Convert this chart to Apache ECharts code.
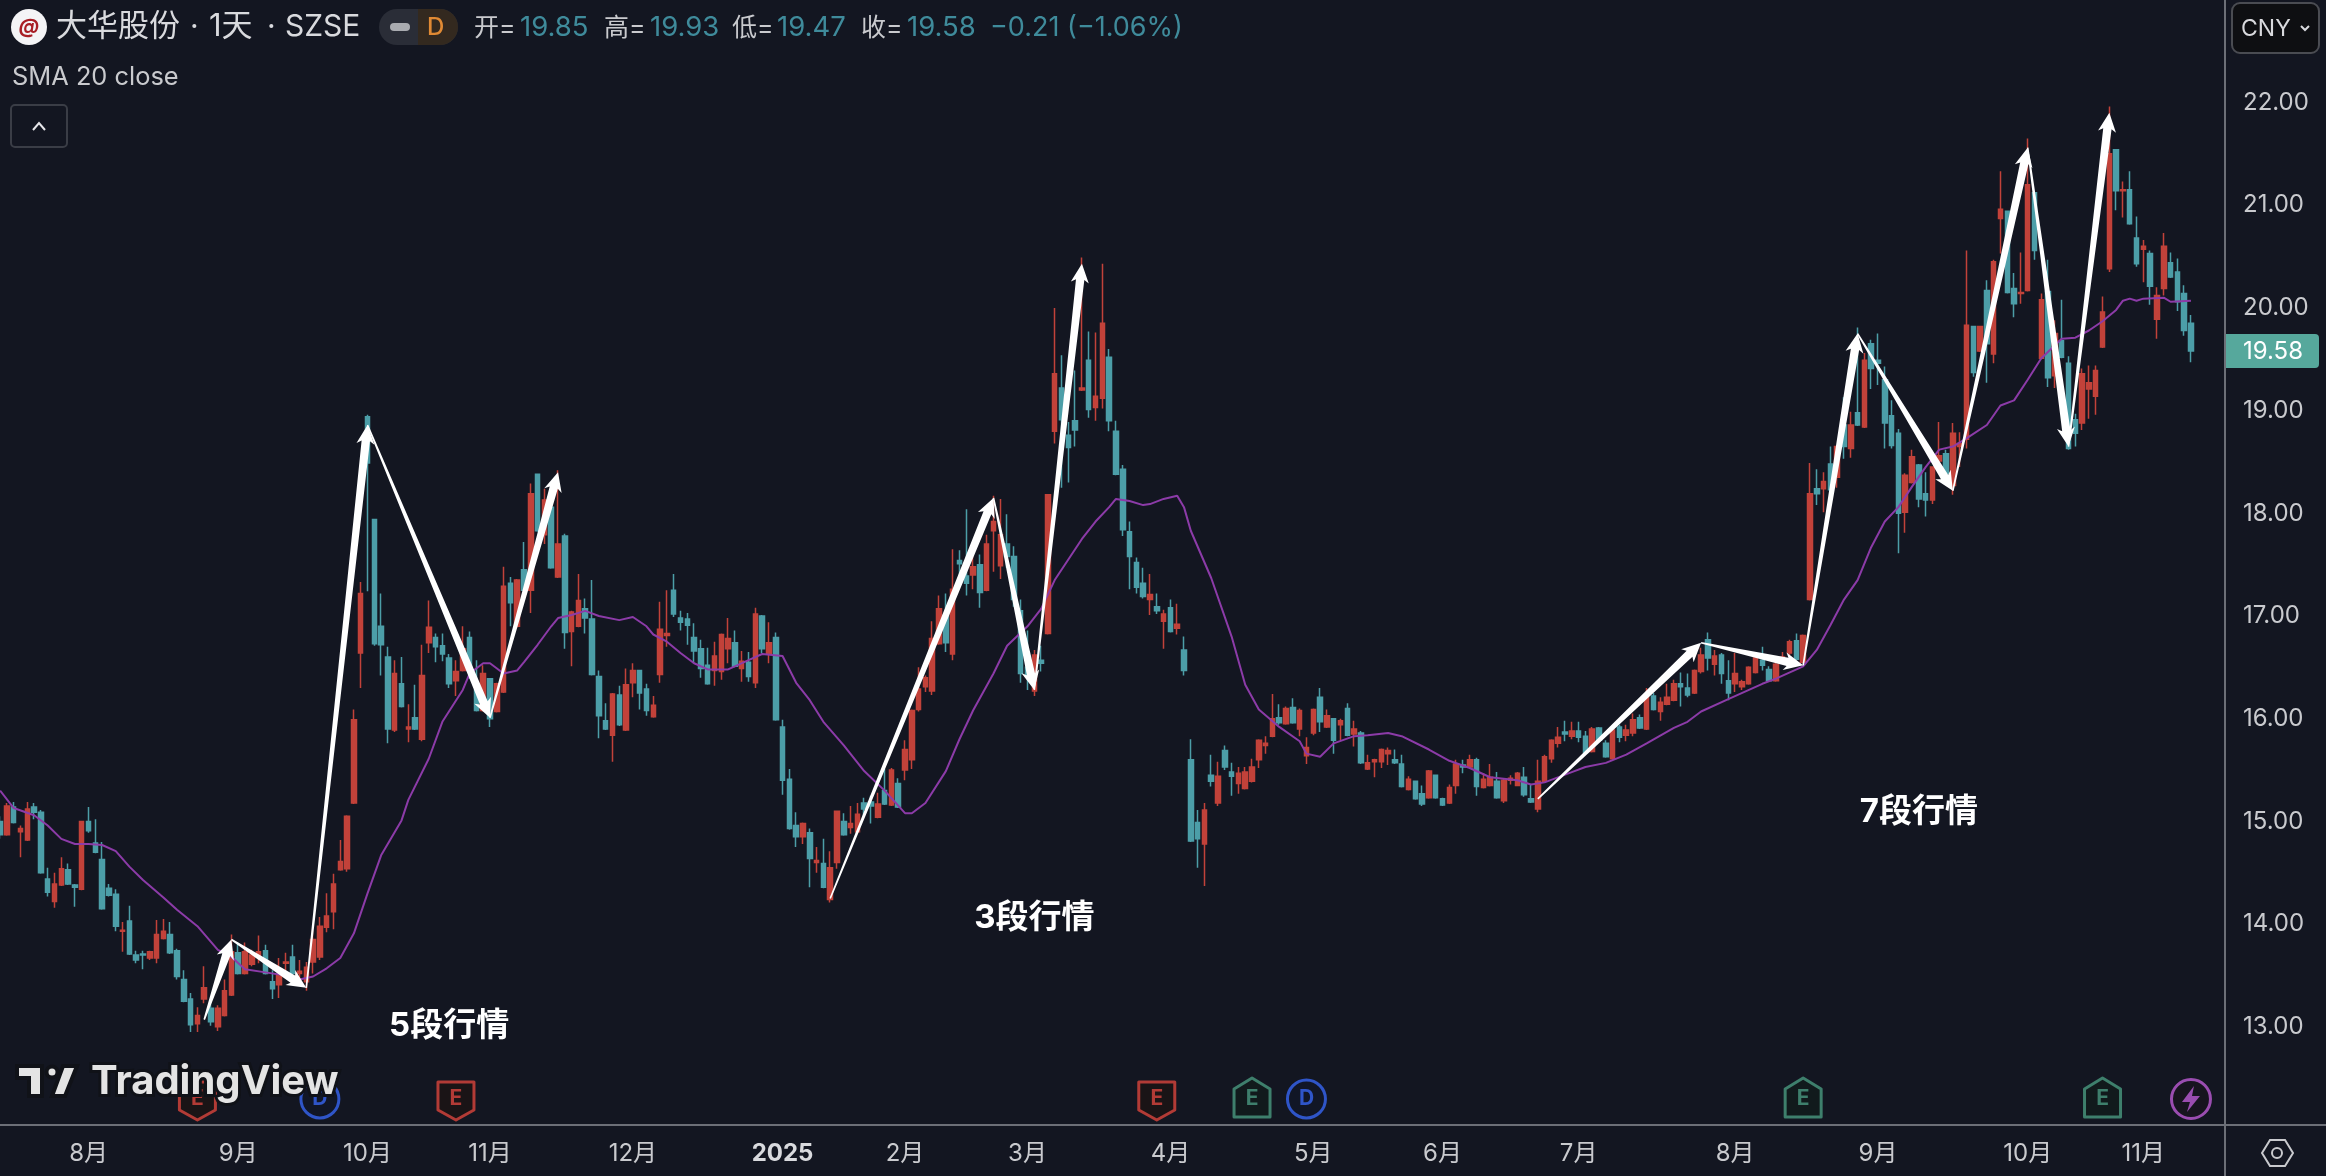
<!DOCTYPE html>
<html>
<head>
<meta charset="utf-8">
<title>大华股份</title>
<script src="https://cdn.jsdelivr.net/npm/echarts@6/dist/echarts.min.js"></script>
<style>
  html, body { margin: 0; padding: 0; background: #131621; }
  #main { width: 2326px; height: 1176px; }
</style>
</head>
<body>
<div id="main"></div>
<script>
// every row is [open, close, low, high]
const candlesAugSep2024 = [
  [15.00,14.87,14.83,15.05],[14.87,15.15,14.86,15.18],[15.14,14.99,14.98,15.19],[14.90,14.93,14.65,14.96],[14.82,15.12,14.81,15.19],
  [15.14,15.09,15.02,15.18],[15.09,14.50,14.49,15.11],[14.44,14.31,14.27,14.55],[14.22,14.39,14.16,14.50],[14.38,14.54,14.37,14.65],
  [14.53,14.39,14.38,14.59],[14.38,14.36,14.17,14.39],[14.34,15.00,14.33,15.00],[15.00,14.91,14.89,15.14],[14.79,14.70,14.69,15.02],
  [14.63,14.15,14.14,14.80],[14.35,14.28,14.27,14.39],[14.29,13.98,13.93,14.34],[13.93,13.94,13.73,14.02],[14.03,13.71,13.70,14.18],
  [13.70,13.65,13.62,13.74],[13.71,13.70,13.56,13.74],[13.67,13.73,13.65,13.74],[13.67,13.90,13.62,14.04],[13.86,13.93,13.85,14.05],
  [13.90,13.72,13.71,14.02],[13.74,13.49,13.46,13.76],[13.46,13.25,13.24,13.55],[13.27,13.02,12.95,13.33],[13.03,13.11,12.95,13.19],
  [13.27,13.38,13.23,13.59],[13.18,13.05,13.01,13.26],[13.00,13.18,12.96,13.21],[13.11,13.35,13.10,13.46],[13.31,13.73,13.30,13.90],
  [13.72,13.52,13.51,13.82],[13.52,13.73,13.51,13.82],[13.61,13.70,13.59,13.75],[13.68,13.73,13.62,13.89],[13.74,13.52,13.51,13.80],
  [13.44,13.37,13.27,13.55],[13.41,13.50,13.28,13.67],[13.62,13.63,13.49,13.72],[13.68,13.52,13.51,13.80],[13.52,13.54,13.44,13.65],
  [13.44,13.58,13.35,13.63],[13.63,13.85,13.52,13.94],[13.68,13.98,13.65,14.07],[13.97,14.08,13.92,14.30],[14.12,14.39,13.95,14.49],
  [14.53,14.61,14.52,14.82],[14.54,15.05,14.51,15.06],[15.18,15.99,15.17,16.09]
];
const candlesOctDec2024 = [
  [16.64,17.22,16.30,17.33],[18.94,18.49,17.24,18.96],[17.94,16.73,16.71,17.94],[16.90,16.72,16.42,17.22],[16.60,15.90,15.76,16.70],
  [15.89,16.44,15.87,16.57],[16.34,16.12,16.11,16.60],[15.90,15.92,15.77,16.14],[16.01,15.90,15.89,16.33],[15.80,16.42,15.78,16.72],
  [16.74,16.89,16.64,17.15],[16.79,16.70,16.55,16.83],[16.71,16.63,16.56,16.83],[16.59,16.34,16.30,16.63],[16.37,16.46,16.22,16.57],
  [16.47,16.68,16.46,16.90],[16.79,16.47,16.39,16.85],[16.28,16.08,16.07,16.57],[16.08,16.44,16.07,16.52],[16.39,16.00,15.92,16.39],
  [16.07,16.34,16.06,16.35],[16.26,17.29,16.25,17.48],[17.32,17.13,16.90,17.38],[16.90,17.35,16.88,17.36],[17.45,17.25,17.24,17.72],
  [17.25,18.19,17.03,18.29],[18.38,17.83,17.82,18.38],[17.79,18.13,17.70,18.24],[18.06,17.47,17.46,18.11],[17.38,17.70,17.37,18.42],
  [17.78,16.84,16.68,17.80],[16.85,17.04,16.51,17.05],[16.90,17.15,16.89,17.41],[17.07,16.98,16.83,17.17],[16.97,16.43,16.42,17.35],
  [16.41,16.03,15.81,16.47],[15.98,15.90,15.89,16.15],[15.84,16.24,15.58,16.25],[16.23,15.94,15.93,16.32],[15.89,16.33,15.88,16.49],
  [16.35,16.47,16.21,16.54],[16.47,16.25,16.09,16.47],[16.29,16.08,16.03,16.34],[16.02,16.13,16.01,16.22],[16.43,16.87,16.35,17.14],
  [16.81,16.83,16.70,17.25],[17.25,17.02,16.99,17.41],[16.98,16.94,16.86,17.05],[16.97,16.91,16.72,17.03],[16.79,16.66,16.54,16.93],
  [16.68,16.49,16.40,16.77],[16.52,16.34,16.33,16.69],[16.47,16.61,16.32,16.75],[16.46,16.82,16.38,16.83],[16.68,16.78,16.54,16.98],
  [16.74,16.51,16.50,16.86],[16.49,16.56,16.36,16.66],[16.55,16.41,16.36,16.65],[16.35,17.02,16.30,17.08],[17.00,16.68,16.64,17.01],
  [16.63,16.74,16.54,16.94],[16.79,15.99,15.98,16.84]
];
const candlesJanMar2025 = [
  [15.92,15.40,15.26,15.99],[15.41,14.93,14.92,15.51],[14.96,14.85,14.75,15.09],[14.85,14.98,14.78,14.99],[14.89,14.64,14.36,14.93],
  [14.60,14.62,14.50,14.75],[14.59,14.36,14.35,14.83],[14.24,14.55,14.21,14.71],[14.60,15.10,14.54,15.10],[15.00,14.87,14.86,15.08],
  [14.94,14.98,14.88,15.15],[14.90,15.07,14.89,15.18],[15.18,15.12,15.05,15.23],[15.19,15.15,14.98,15.25],[15.04,15.17,15.03,15.28],
  [15.30,15.17,15.16,15.51],[15.16,15.50,15.15,15.52],[15.37,15.14,15.13,15.42],[15.50,15.70,15.40,15.79],[15.60,16.08,15.51,16.09],
  [16.09,16.29,16.07,16.50],[16.31,16.40,16.26,16.42],[16.27,16.78,16.23,16.95],[16.73,17.07,16.72,17.20],[17.01,16.74,16.65,17.22],
  [16.63,17.26,16.57,17.65],[17.54,17.51,17.39,17.64],[17.39,17.32,17.20,18.04],[17.40,17.48,17.26,17.60],[17.50,17.23,17.08,17.60],
  [17.25,17.70,17.24,17.79],[17.83,17.92,17.43,18.17],[17.49,17.79,17.36,18.14],[17.70,17.58,17.47,17.99],[17.58,17.16,17.09,17.68],
  [17.05,16.44,16.35,17.16],[16.50,16.42,16.28,16.86],[16.27,16.62,16.22,16.67],[16.57,16.54,16.46,16.71],[16.83,18.18,16.82,18.18],
  [18.80,19.36,18.68,20.00],[19.22,18.91,18.25,19.54],[18.76,18.64,18.30,18.89],[18.90,18.81,18.65,19.39],[19.20,19.22,19.19,20.49],
  [19.49,19.01,18.93,19.77],[19.03,19.14,18.90,19.76],[19.12,19.85,19.02,20.43],[19.52,18.90,18.80,19.60],[18.80,18.38,18.37,18.90],
  [18.43,17.84,17.78,18.47],[17.82,17.58,17.26,17.92],[17.52,17.28,17.22,17.57],[17.32,17.19,17.17,17.47],[17.16,17.21,17.01,17.41],
  [17.09,17.05,17.02,17.22],[16.95,17.02,16.68,17.06],[17.08,16.85,16.84,17.16],[16.88,16.92,16.82,17.12],[16.67,16.47,16.42,16.80]
];
const candlesAprJul2025 = [
  [15.60,14.81,14.80,15.80],[14.99,14.83,14.55,15.11],[14.78,15.11,14.37,15.18],[15.45,15.39,15.34,15.65],[15.18,15.44,15.15,15.58],
  [15.69,15.53,15.50,15.74],[15.48,15.44,15.25,15.57],[15.37,15.47,15.27,15.53],[15.32,15.48,15.31,15.53],[15.39,15.53,15.38,15.61],
  [15.60,15.79,15.52,15.80],[15.74,15.76,15.66,15.83],[15.83,16.00,15.82,16.24],[16.01,15.96,15.94,16.14],[15.95,16.10,15.94,16.12],
  [16.11,15.96,15.95,16.20],[15.90,16.08,15.83,16.10],[15.64,15.72,15.56,15.82],[15.86,16.09,15.84,16.10],[16.21,15.97,15.87,16.30],
  [15.92,16.03,15.91,16.09],[16.00,15.79,15.66,16.00],[15.94,15.98,15.79,16.00],[16.10,15.84,15.83,16.15],[15.85,15.90,15.73,15.98],
  [15.86,15.57,15.56,15.88],[15.51,15.57,15.50,15.65],[15.58,15.60,15.43,15.61],[15.58,15.70,15.52,15.71],[15.66,15.69,15.55,15.72],
  [15.60,15.57,15.56,15.70],[15.56,15.34,15.33,15.65],[15.31,15.41,15.30,15.44],[15.39,15.22,15.21,15.39],[15.27,15.17,15.15,15.35],
  [15.23,15.49,15.22,15.50],[15.45,15.23,15.22,15.45],[15.22,15.16,15.15,15.23],[15.18,15.33,15.17,15.36],[15.35,15.56,15.27,15.60],
  [15.55,15.53,15.47,15.60],[15.53,15.60,15.52,15.65],[15.60,15.34,15.25,15.62],[15.33,15.41,15.32,15.47],[15.35,15.43,15.34,15.56],
  [15.39,15.23,15.22,15.48],[15.20,15.40,15.18,15.42],[15.40,15.42,15.36,15.45],[15.35,15.47,15.35,15.48],[15.43,15.26,15.24,15.53],
  [15.22,15.19,15.18,15.36],[15.12,15.39,15.09,15.60],[15.39,15.63,15.38,15.65],[15.61,15.79,15.57,15.80],[15.76,15.82,15.72,15.92],
  [15.87,15.85,15.78,15.98],[15.83,15.88,15.80,15.97],[15.88,15.82,15.77,15.97],[15.83,15.67,15.66,15.88],[15.68,15.90,15.67,15.92],
  [15.91,15.79,15.78,15.92],[15.76,15.63,15.62,15.79],[15.61,15.89,15.60,15.92],[15.92,15.82,15.77,15.94],[15.84,15.89,15.78,15.94],
  [15.86,15.99,15.83,16.05],[16.01,15.91,15.90,16.04],[15.90,16.21,15.89,16.30],[16.22,16.09,16.08,16.25],[16.07,16.16,15.98,16.21],
  [16.14,16.21,16.13,16.34],[16.18,16.34,16.17,16.38],[16.34,16.31,16.12,16.45],[16.30,16.23,16.21,16.44]
];
const candlesAugNov2025 = [
  [16.25,16.47,16.24,16.48],[16.46,16.62,16.44,16.69],[16.77,16.59,16.47,16.84],[16.53,16.61,16.42,16.67],[16.62,16.44,16.34,16.64],
  [16.37,16.25,16.18,16.57],[16.34,16.44,16.26,16.64],[16.31,16.36,16.28,16.38],[16.34,16.50,16.33,16.51],[16.45,16.59,16.44,16.60],
  [16.57,16.52,16.47,16.70],[16.48,16.37,16.36,16.51],[16.37,16.53,16.36,16.55],[16.55,16.60,16.54,16.65],[16.64,16.75,16.62,16.77],
  [16.76,16.58,16.57,16.83],[16.55,16.81,16.54,16.82],[17.16,18.19,17.15,18.49],[18.24,18.19,18.08,18.43],[18.24,18.31,18.01,18.40],
  [18.48,18.23,18.22,18.65],[18.35,18.65,18.25,18.66],[18.86,18.65,18.53,19.13],[18.63,18.86,18.54,18.99],[18.98,18.86,18.85,19.81],
  [18.84,19.49,18.83,19.56],[19.65,19.41,19.21,19.69],[19.49,19.46,19.25,19.75],[19.30,18.88,18.63,19.43],[18.95,18.66,18.63,19.10],
  [18.78,18.00,17.61,18.82],[18.01,18.37,17.81,18.39],[18.30,18.55,18.29,18.62],[18.47,18.14,18.06,18.48],[18.19,18.13,17.97,18.40],
  [18.13,18.45,18.09,18.45],[18.51,18.56,18.50,18.89],[18.58,18.39,18.37,18.62],[18.27,18.78,18.18,18.88],[18.65,18.68,18.45,18.79],
  [18.72,19.83,18.63,20.56],[19.82,19.37,19.33,19.82],[19.58,19.82,19.57,19.82],[20.17,19.65,19.27,20.27],[19.55,20.45,19.46,20.47],
  [20.87,20.96,20.53,21.33],[20.94,20.15,20.14,20.94],[20.19,20.04,19.91,20.34],[20.14,20.15,20.04,20.54],[20.17,21.20,20.16,21.65],
  [21.12,20.56,20.47,21.12],[19.51,20.08,19.50,20.14],[20.16,19.32,19.23,20.47],[19.34,19.75,19.22,19.88],[19.68,19.52,19.51,20.08],
  [19.46,18.63,18.62,19.53],[18.91,18.78,18.65,18.97],[18.88,19.36,18.81,19.41],[19.21,19.27,18.92,19.44],[19.14,19.39,18.96,19.44],
  [19.62,19.96,19.61,20.11],[20.38,21.50,20.35,21.96],[21.54,21.14,20.95,21.54],[21.14,21.15,20.88,21.23],[21.15,20.82,20.81,21.33],
  [20.68,20.43,20.40,20.89],[20.57,20.60,20.25,20.66],[20.53,20.21,20.03,20.56],[19.89,20.12,19.70,20.20],[20.19,20.60,20.12,20.73],
  [20.44,20.30,20.29,20.54],[20.35,20.06,19.97,20.48],[20.14,19.78,19.73,20.22],[19.85,19.58,19.47,19.93]
];

// SMA 20, read at the bends of the line
const smaIndex = [0,2,5,7,9,11,13,15,17,19,21,24,26,29,32,34,36,39,42,44,46,48,50,52,54,56,59,60,63,65,68,69,71,72,74,76,77,79,81,82,84,86,88,91,93,95,96,98,100,102,104,107,110,112,115,117,119,121,124,127,130,133,134,136,139,141,143,146,148,151,153,155,159,161,163,164,166,168,169,171,173,174,175,178,181,183,185,188,191,192,194,196,199,201,204,206,210,213,216,219,223,225,227,231,233,236,239,242,246,248,250,254,259,261,265,267,269,271,273,275,277,279,281,283,285,287,289,292,294,296,298,300,303,305,307,309,311,312,313,314,315,318,319,322];
const smaValue = [15.30,15.13,15.06,14.96,14.83,14.78,14.78,14.77,14.71,14.56,14.43,14.26,14.14,13.98,13.75,13.68,13.56,13.53,13.50,13.46,13.49,13.57,13.67,13.91,14.30,14.67,15.01,15.21,15.61,15.97,16.28,16.44,16.54,16.54,16.44,16.47,16.55,16.72,16.90,16.98,17.01,17.05,17.00,16.96,16.99,16.90,16.82,16.75,16.64,16.54,16.48,16.48,16.57,16.63,16.61,16.35,16.18,15.97,15.74,15.49,15.30,15.08,15.08,15.18,15.49,15.80,16.08,16.44,16.71,16.90,17.07,17.35,17.75,17.92,18.06,18.14,18.12,18.08,18.09,18.14,18.17,18.06,17.83,17.37,16.80,16.33,16.09,15.92,15.78,15.66,15.63,15.76,15.83,15.84,15.86,15.83,15.70,15.59,15.52,15.43,15.40,15.36,15.38,15.48,15.53,15.57,15.65,15.76,15.91,15.97,16.07,16.19,16.34,16.39,16.51,16.67,16.91,17.16,17.35,17.67,17.92,18.06,18.26,18.45,18.62,18.65,18.73,18.86,19.05,19.10,19.30,19.51,19.70,19.71,19.78,19.87,19.98,20.07,20.09,20.07,20.09,20.10,20.06,20.07];

// white zig-zag arrows, [candle index, price] at each turn
const waveFive = [[30,13.07],[34,13.85],[45,13.38],[54,18.86],[72,16.01],[82,18.40]];
const waveThree = [[122,14.25],[146,18.15],[152,16.28],[159,20.43]];
const waveSeven = [[226,15.22],[250,16.74],[265,16.52],[273,19.75],[287,18.22],[298,21.56],[304,18.65],[310,21.90]];

const waveLabels = ['5段行情', '3段行情', '7段行情'];
const waveLabelIndex = [66, 152, 282];
const waveLabelPrice = [13.01, 14.06, 15.09];

const monthIndex = [13,35,54,72,93,115,133,151,172,193,212,232,255,276,298,315];
const monthLabels = ['8月','9月','10月','11月','12月','2025','2月','3月','4月','5月','6月','7月','8月','9月','10月','11月'];
const priceTicks = [13,14,15,16,17,18,19,20,21,22];

const eventIndex = [29,47,67,170,184,192,265,309,322];
const eventKind = ['earnRed','div','earnRed','earnRed','earnGreen','div','earnGreen','earnGreen','bolt'];

const lastPrice = 19.58;
const slotCount = 328;

const RED = '#C2423A';
const TEAL = '#4C9EA8';
const BG = '#131621';
const TEXT_FONT = 'Inter, "Noto Sans CJK SC", sans-serif';

const candles = [].concat(candlesAugSep2024, candlesOctDec2024, candlesJanMar2025, candlesAprJul2025, candlesAugNov2025);
const categories = Array.from({ length: slotCount }, (_, i) => {
  const k = monthIndex.indexOf(i);
  return k >= 0 ? monthLabels[k] : '';
});

const arrowLegs = [];
for (const wave of [waveFive, waveThree, waveSeven]) {
  for (let i = 0; i + 1 < wave.length; i++) {
    arrowLegs.push([wave[i][0], wave[i][1], wave[i + 1][0], wave[i + 1][1]]);
  }
}

function renderArrow(params, api) {
  const leg = arrowLegs[params.dataIndex];
  const a = api.coord([leg[0], leg[1]]);
  const b = api.coord([leg[2], leg[3]]);
  const dx = b[0] - a[0], dy = b[1] - a[1];
  const len = Math.sqrt(dx * dx + dy * dy);
  const ux = dx / len, uy = dy / len;
  const nx = -uy, ny = ux;
  const headLen = 19, headHalf = 9, neckHalf = 4.2, tailHalf = 0.8;
  const at = (along, side) => [a[0] + ux * along + nx * side, a[1] + uy * along + ny * side];
  return {
    type: 'polygon',
    shape: { points: [
      at(0, tailHalf), at(len - headLen + 3, neckHalf), at(len - headLen, headHalf), b,
      at(len - headLen, -headHalf), at(len - headLen + 3, -neckHalf), at(0, -tailHalf)
    ] },
    style: { fill: '#ffffff' }
  };
}

function renderWaveLabel(params, api) {
  const k = params.dataIndex;
  const p = api.coord([waveLabelIndex[k], waveLabelPrice[k]]);
  return {
    type: 'text', x: p[0], y: p[1],
    style: { text: waveLabels[k], fill: '#ffffff', font: '700 33px ' + TEXT_FONT, align: 'center', verticalAlign: 'middle' }
  };
}

function renderEvent(params, api) {
  const kind = eventKind[params.dataIndex];
  const cx = api.coord([eventIndex[params.dataIndex], 15])[0];
  const cy = 1099;
  const pts = offsets => offsets.map(o => [cx + o[0], cy + o[1]]);
  const label = (text, color) => ({
    type: 'text', x: cx, y: cy,
    style: { text: text, fill: color, font: '700 21px ' + TEXT_FONT, align: 'center', verticalAlign: 'middle' }
  });
  if (kind === 'earnRed') {
    return { type: 'group', children: [
      { type: 'polygon', shape: { points: pts([[-18,-17],[18,-17],[18,11],[0,21],[-18,11]]) }, style: { fill: '#1a1416', stroke: '#B23B36', lineWidth: 3, lineJoin: 'round' } },
      label('E', '#B23B36')
    ] };
  }
  if (kind === 'earnGreen') {
    return { type: 'group', children: [
      { type: 'polygon', shape: { points: pts([[0,-21],[18,-10],[18,18],[-18,18],[-18,-10]]) }, style: { fill: '#111a1c', stroke: '#3E7F6C', lineWidth: 3, lineJoin: 'round' } },
      label('E', '#3E7F6C')
    ] };
  }
  if (kind === 'div') {
    return { type: 'group', children: [
      { type: 'circle', shape: { cx: cx, cy: cy, r: 19 }, style: { fill: '#111626', stroke: '#2F55C8', lineWidth: 3 } },
      label('D', '#2F55C8')
    ] };
  }
  return { type: 'group', children: [
    { type: 'circle', shape: { cx: cx, cy: cy, r: 19.5 }, style: { fill: '#17141f', stroke: '#9A4DB0', lineWidth: 3 } },
    { type: 'polygon', shape: { points: pts([[3,-13],[-9,3],[-1,3],[-4,13],[9,-3],[1,-3]]) }, style: { fill: '#9A4DB0' } }
  ] };
}

function renderLastPrice(params, api) {
  const y = api.coord([322, lastPrice])[1];
  return { type: 'group', children: [
    { type: 'rect', shape: { x: 2226, y: y - 17, width: 93, height: 34, r: [0, 4, 4, 0] }, style: { fill: '#56A89C' } },
    { type: 'text', x: 2243, y: y + 1, style: { text: lastPrice.toFixed(2), fill: '#ffffff', font: '24px ' + TEXT_FONT, verticalAlign: 'middle' } }
  ] };
}

function headText(text, x, y, fill, size, weight) {
  return {
    type: 'text', x: x, y: y,
    style: { text: text, fill: fill, font: (weight || 400) + ' ' + size + 'px ' + TEXT_FONT, verticalAlign: 'middle' }
  };
}

const QUOTE = '#3F8B9B';
const LABEL = '#c9cace';
const TITLE = '#d9dade';
const graphicItems = [
  // pane borders
  { type: 'line', shape: { x1: 0, y1: 1125, x2: 2326, y2: 1125 }, style: { stroke: '#6c6f77', lineWidth: 2 } },
  { type: 'line', shape: { x1: 2225, y1: 0, x2: 2225, y2: 1176 }, style: { stroke: '#6c6f77', lineWidth: 2 } },
  // header
  { type: 'circle', shape: { cx: 29, cy: 27, r: 18 }, style: { fill: '#f4f4f6' } },
  { type: 'text', x: 29, y: 27, style: { text: '@', fill: '#A81E25', font: 'italic 700 20px ' + TEXT_FONT, align: 'center', verticalAlign: 'middle' } },
  headText('大华股份', 56, 27, TITLE, 31),
  headText('·', 190, 27, TITLE, 30),
  headText('1天', 209, 27, TITLE, 31),
  headText('·', 267, 27, TITLE, 30),
  headText('SZSE', 285, 27, TITLE, 30),
  { type: 'rect', shape: { x: 379, y: 9, width: 79, height: 36, r: 18 }, style: { fill: '#2a2d37' } },
  { type: 'rect', shape: { x: 418, y: 9, width: 40, height: 36, r: [0, 18, 18, 0] }, style: { fill: '#33291f' } },
  { type: 'rect', shape: { x: 390, y: 23, width: 20, height: 8, r: 4 }, style: { fill: '#a9abb0' } },
  headText('D', 427, 28, '#E08A34', 24, 500),
  headText('开=', 474, 28, LABEL, 25),
  headText('19.85', 520, 28, QUOTE, 27.5),
  headText('高=', 604, 28, LABEL, 25),
  headText('19.93', 650, 28, QUOTE, 27.5),
  headText('低=', 732, 28, LABEL, 25),
  headText('19.47', 777, 28, QUOTE, 27.5),
  headText('收=', 861, 28, LABEL, 25),
  headText('19.58', 907, 28, QUOTE, 27.5),
  headText('−0.21 (−1.06%)', 990, 28, QUOTE, 27),
  headText('SMA 20 close', 12, 77, LABEL, 25.4),
  // collapse button
  { type: 'rect', shape: { x: 11, y: 105, width: 56, height: 42, r: 4 }, style: { fill: 'transparent', stroke: '#3a3d46', lineWidth: 2 } },
  { type: 'polyline', shape: { points: [[33, 130], [39, 123], [45, 130]] }, style: { fill: 'none', stroke: '#e6e6ea', lineWidth: 2 } },
  // currency button
  { type: 'rect', shape: { x: 2232, y: 3, width: 87, height: 50, r: 8 }, style: { fill: '#0e0f12', stroke: '#4a4c52', lineWidth: 2 } },
  headText('CNY', 2241, 29, TITLE, 23),
  { type: 'polyline', shape: { points: [[2301, 26], [2305, 30], [2309, 26]] }, style: { fill: 'none', stroke: TITLE, lineWidth: 2 } },
  // settings icon
  { type: 'polygon', shape: { points: [[2262, 1153], [2270, 1140], [2285, 1140], [2293, 1153], [2285, 1166], [2270, 1166]] }, style: { fill: 'transparent', stroke: LABEL, lineWidth: 2 } },
  { type: 'circle', shape: { cx: 2277, cy: 1153, r: 5 }, style: { fill: 'transparent', stroke: LABEL, lineWidth: 2 } },
  // watermark
  { type: 'polygon', shape: { points: [[17, 1066], [42, 1066], [42, 1096], [29, 1096], [29, 1078], [17, 1078]] }, style: { fill: '#e4e4e4', stroke: '#101218', lineWidth: 4 } },
  { type: 'circle', shape: { cx: 52, cy: 1072, r: 5.5 }, style: { fill: '#e4e4e4', stroke: '#101218', lineWidth: 4 } },
  { type: 'polygon', shape: { points: [[63, 1066], [77, 1066], [65, 1096], [52, 1096]] }, style: { fill: '#e4e4e4', stroke: '#101218', lineWidth: 4 } },
  { type: 'text', x: 91, y: 1082, style: { text: 'TradingView', fill: '#e4e4e4', stroke: '#101218', lineWidth: 6, font: '700 40px ' + TEXT_FONT, verticalAlign: 'middle' } }
].map(item => Object.assign({ z: 50 }, item));

const chart = echarts.init(document.getElementById('main'), null, { renderer: 'canvas' });
chart.setOption({
  animation: false,
  backgroundColor: BG,
  grid: { left: -3.3, top: 0, width: 2231.7, height: 1125, outerBoundsMode: 'none' },
  xAxis: {
    type: 'category',
    data: categories,
    boundaryGap: true,
    axisLine: { show: false },
    axisTick: { show: false },
    splitLine: { show: false },
    axisLabel: {
      interval: 0,
      hideOverlap: false,
      margin: 17,
      fontFamily: TEXT_FONT,
      fontSize: 24,
      color: LABEL,
      formatter: v => (v === '2025' ? '{year|2025}' : v),
      rich: { year: { fontFamily: TEXT_FONT, fontSize: 24, fontWeight: 700, color: TITLE } }
    }
  },
  yAxis: {
    type: 'value',
    position: 'right',
    offset: -3.4,
    min: 12.044,
    max: 22.998,
    axisLine: { show: false },
    axisTick: { show: false },
    splitLine: { show: false },
    axisLabel: {
      customValues: priceTicks,
      margin: 18,
      align: 'left',
      padding: [3, 0, 0, 0],
      fontFamily: TEXT_FONT,
      fontSize: 24,
      color: LABEL,
      formatter: v => Number(v).toFixed(2)
    }
  },
  graphic: { elements: graphicItems },
  series: [
    {
      type: 'candlestick',
      data: candles,
      barWidth: 5,
      itemStyle: { color: RED, color0: TEAL, borderColor: RED, borderColor0: TEAL, borderWidth: 1.5 },
      z: 2
    },
    {
      type: 'line',
      data: smaIndex.map((x, k) => [x, smaValue[k]]),
      showSymbol: false,
      lineStyle: { color: '#8C3BA8', width: 2 },
      z: 3
    },
    { type: 'custom', data: arrowLegs, renderItem: renderArrow, z: 4 },
    { type: 'custom', data: waveLabels.map((_, k) => [waveLabelIndex[k], waveLabelPrice[k]]), renderItem: renderWaveLabel, z: 5 },
    { type: 'custom', data: eventIndex.map(i => [i, 15]), renderItem: renderEvent, z: 3 },
    { type: 'custom', data: [[322, lastPrice]], renderItem: renderLastPrice, z: 5 }
  ]
});
</script>
</body>
</html>
